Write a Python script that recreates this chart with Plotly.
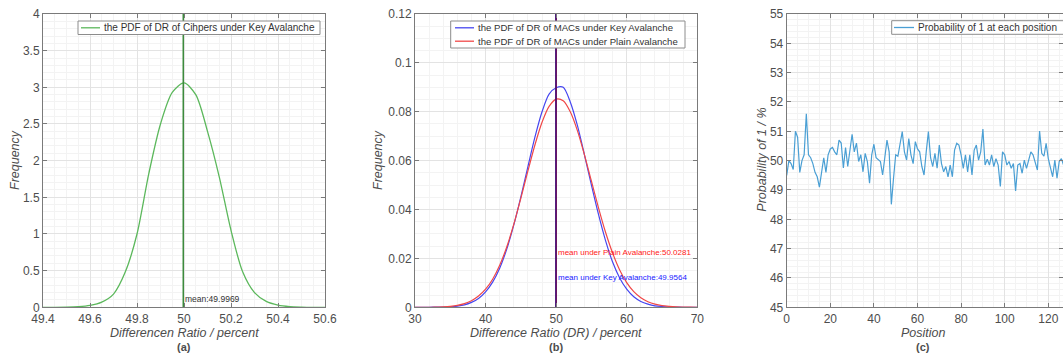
import plotly.graph_objects as go

# ---------------- data ----------------
# (a) PDF of DR of ciphers under key avalanche
a_x = [49.40, 49.45, 49.50, 49.55, 49.60, 49.65, 49.70, 49.75, 49.80, 49.85, 49.90, 49.95, 50.00,
       50.05, 50.10, 50.15, 50.20, 50.25, 50.30, 50.35, 50.40, 50.45, 50.50, 50.55, 50.60]
a_y = [0.000, 0.000, 0.002, 0.008, 0.025, 0.070, 0.180, 0.480, 1.000, 1.820, 2.500, 2.930, 3.060,
       2.900, 2.400, 1.780, 1.050, 0.480, 0.200, 0.080, 0.030, 0.010, 0.003, 0.000, 0.000]
a_mean = 49.9969
a_name = "the PDF of DR of Cihpers under Key Avalanche"

# (b) PDF of DR of MACs
b_x = [30, 31, 32, 33, 34, 35, 36, 37, 38, 39, 40, 41, 42, 43, 44, 45, 46, 47, 48, 49, 50,
       51, 52, 53, 54, 55, 56, 57, 58, 59, 60, 61, 62, 63, 64, 65, 66, 67, 68, 69, 70]
b_key = [0.0000, 0.0000, 0.0000, 0.0001, 0.0001, 0.0002, 0.0005, 0.0010, 0.0020, 0.0036, 0.0063,
         0.0103, 0.0160, 0.0238, 0.0337, 0.0452, 0.0576, 0.0697, 0.0800, 0.0872, 0.0898,
         0.0900, 0.0840, 0.0745, 0.0625, 0.0500, 0.0380, 0.0273, 0.0185, 0.0120, 0.0074,
         0.0043, 0.0024, 0.0013, 0.0006, 0.0003, 0.0001, 0.0001, 0.0000, 0.0000, 0.0000]
b_plain = [0.0000, 0.0000, 0.0000, 0.0001, 0.0002, 0.0004, 0.0008, 0.0015, 0.0027, 0.0046, 0.0074,
           0.0115, 0.0172, 0.0247, 0.0340, 0.0447, 0.0558, 0.0665, 0.0757, 0.0822, 0.0852,
           0.0845, 0.0800, 0.0724, 0.0625, 0.0516, 0.0407, 0.0307, 0.0222, 0.0153, 0.0101,
           0.0064, 0.0039, 0.0023, 0.0013, 0.0007, 0.0004, 0.0002, 0.0001, 0.0001, 0.0000]
b_mean_key = 49.9564
b_mean_plain = 50.0281
b_names = ["the PDF of DR of MACs under Key Avalanche", "the PDF of DR of MACs under Plain Avalanche"]

# (c) probability of 1 at each position
c_pos = list(range(0, 128))
c_prob = [49.50, 50.00, 49.90, 49.70, 51.00, 50.80, 49.60, 50.00, 50.20, 51.60,
          50.20, 50.10, 49.90, 49.60, 49.45, 49.10, 49.60, 50.10, 49.60, 50.20,
          50.40, 50.45, 50.30, 50.20, 50.70, 50.60, 49.75, 50.45, 49.80, 50.30,
          50.90, 50.30, 50.60, 49.97, 50.20, 49.62, 50.25, 49.97, 49.23, 50.20,
          50.56, 50.10, 50.05, 49.97, 49.51, 50.05, 50.70, 50.30, 48.51, 49.40,
          50.20, 50.15, 50.65, 50.99, 50.30, 50.02, 50.75, 50.20, 49.90, 50.65,
          50.40, 50.30, 49.80, 49.51, 50.30, 50.99, 50.10, 49.80, 50.25, 49.74,
          50.53, 49.90, 49.62, 49.80, 49.45, 49.85, 49.45, 50.36, 50.59, 50.53,
          50.20, 49.74, 50.20, 49.62, 50.20, 49.51, 50.36, 50.53, 50.02, 50.30,
          51.08, 49.85, 50.05, 49.85, 50.20, 49.80, 50.07, 49.85, 49.12, 50.30,
          50.20, 49.85, 49.97, 49.74, 49.90, 48.97, 49.85, 49.90, 49.57, 50.02,
          49.74, 50.07, 50.30, 50.20, 49.97, 49.68, 51.01, 50.25, 50.15, 50.59,
          50.07, 49.74, 49.45, 50.02, 49.40, 49.97, 50.07, 49.85]
c_name = "Probability of 1 at each position"

# ---------------- figure ----------------
W, H = 1063, 358
FONT = "Liberation Sans, Arial, sans-serif"
TXT = "#4d4d4d"
GREEN, GREEN_D = "#5cb85c", "#3d8b3d"
BLUE, RED = "#4646f0", "#f04848"
CBLUE = "#4a9fd4"

fig = go.Figure()

# (a)
fig.add_trace(go.Scatter(x=a_x, y=a_y, mode="lines", line=dict(color=GREEN, width=1.3, shape="spline", smoothing=0.8),
                         name=a_name, showlegend=False, xaxis="x", yaxis="y"))
fig.add_trace(go.Scatter(x=[a_mean, a_mean], y=[0, 4], mode="lines", line=dict(color=GREEN_D, width=1.5),
                         showlegend=False, xaxis="x", yaxis="y"))

# (b)
fig.add_trace(go.Scatter(x=b_x, y=b_key, mode="lines", line=dict(color=BLUE, width=1.2, shape="spline", smoothing=0.8),
                         name=b_names[0], showlegend=False, xaxis="x2", yaxis="y2"))
fig.add_trace(go.Scatter(x=b_x, y=b_plain, mode="lines", line=dict(color=RED, width=1.2, shape="spline", smoothing=0.8),
                         name=b_names[1], showlegend=False, xaxis="x2", yaxis="y2"))
fig.add_trace(go.Scatter(x=[b_mean_key, b_mean_key], y=[0, 0.12], mode="lines", line=dict(color="#3a1080", width=1.5),
                         showlegend=False, xaxis="x2", yaxis="y2"))
fig.add_trace(go.Scatter(x=[b_mean_plain, b_mean_plain], y=[0, 0.12], mode="lines", line=dict(color="#6a1060", width=1.2),
                         showlegend=False, xaxis="x2", yaxis="y2"))

# (c)
fig.add_trace(go.Scatter(x=c_pos, y=c_prob, mode="lines", line=dict(color=CBLUE, width=1.2),
                         name=c_name, showlegend=False, xaxis="x3", yaxis="y3"))

ydom = [1 - 307.3 / H, 1 - 14 / H]


def ax(domain, rng, dtick, minor, anchor):
    return dict(domain=domain, range=rng, dtick=dtick, tick0=rng[0], anchor=anchor,
                showgrid=True, gridcolor="#e3e3e3", gridwidth=1,
                minor=dict(dtick=minor, showgrid=True, gridcolor="#f3f3f3", gridwidth=1, ticks=""),
                showline=True, linecolor="#7a7a7a", linewidth=1, mirror="ticks",
                ticks="inside", ticklen=4, tickcolor="#7a7a7a",
                zeroline=False, tickfont=dict(family=FONT, size=12, color=TXT))


c_right = 120 + (W - 1048.3) / 2.18
fig.update_layout(
    width=W, height=H, margin=dict(l=0, r=0, t=0, b=0, autoexpand=False),
    paper_bgcolor="white", plot_bgcolor="white",
    font=dict(family=FONT, color=TXT),
    xaxis=ax([43 / W, 325 / W], [49.4, 50.6], 0.2, 0.05, "y"),
    yaxis=ax(ydom, [0, 4], 0.5, 0.1, "x"),
    xaxis2=ax([415 / W, 697.3 / W], [30, 70], 10, 2, "y2"),
    yaxis2=ax(ydom, [0, 0.12], 0.02, 0.005, "x2"),
    xaxis3=ax([786.7 / W, 1.0], [0, c_right], 20, 5, "y3"),
    yaxis3=ax(ydom, [45, 55], 1, 0.2, "x3"),
    showlegend=False,
)

ann = []
shapes = []


def label(text, xpx, ypx, size=12.5, italic=True, bold=False, angle=0):
    t = text
    if bold:
        t = "<b>" + t + "</b>"
    if italic:
        t = "<i>" + t + "</i>"
    ann.append(dict(text=t, x=xpx / W, y=1 - ypx / H, xref="paper", yref="paper", showarrow=False,
                    xanchor="center", yanchor="middle", textangle=angle,
                    font=dict(family=FONT, size=size, color=TXT)))


def legend_box(x0, y0, x1, y1, items, fsize=10):
    # items: (name, color, ypx, sample_x0, sample_x1, text_x)
    shapes.append(dict(type="rect", xref="paper", yref="paper", x0=x0 / W, x1=x1 / W,
                       y0=1 - y1 / H, y1=1 - y0 / H, line=dict(color="#8c8c8c", width=1),
                       fillcolor="white", layer="above"))
    for name, color, ypx, sx0, sx1, tx in items:
        shapes.append(dict(type="line", xref="paper", yref="paper", x0=sx0 / W, x1=sx1 / W,
                           y0=1 - ypx / H, y1=1 - ypx / H, line=dict(color=color, width=1.3), layer="above"))
        ann.append(dict(text=name, x=tx / W, y=1 - ypx / H, xref="paper", yref="paper", showarrow=False,
                        xanchor="left", yanchor="middle", font=dict(family=FONT, size=fsize, color="#333")))


label("Differencen Ratio / percent", 184, 333)
label("(a)", 184, 347, size=11, italic=False, bold=True)
label("Frequency", 15, 160, angle=-90)
label("Difference Ratio (DR) / percent", 556, 333)
label("(b)", 556, 347, size=11, italic=False, bold=True)
label("Frequency", 378, 160, angle=-90)
label("Position", 923, 333)
label("(c)", 923, 347, size=11, italic=False, bold=True)
label("Probability of 1 / %", 761.7, 160, angle=-90)

legend_box(78, 21, 320, 34.5, [(a_name, GREEN, 27.8, 81, 100, 102)])
legend_box(450.7, 21, 685, 48, [(b_names[0], BLUE, 27.8, 455, 474, 476),
                                (b_names[1], RED, 41.2, 455, 474, 476)], fsize=9.6)
legend_box(891.7, 20.7, 1075, 34.3, [(c_name, CBLUE, 27.5, 894, 914, 916)])

# mean annotations
ann.append(dict(text=f"mean:{a_mean}", x=a_mean, y=0.02, xref="x", yref="y", showarrow=False,
                xanchor="left", yanchor="bottom", font=dict(family=FONT, size=8.5, color="#333")))
ann.append(dict(text=f"mean under Plain Avalanche:{b_mean_plain}", x=b_mean_plain, y=0.0223, xref="x2", yref="y2",
                showarrow=False, xanchor="left", yanchor="middle", font=dict(family=FONT, size=8, color="#ff2020")))
ann.append(dict(text=f"mean under Key Avalanche:{b_mean_key}", x=b_mean_plain, y=0.0120, xref="x2", yref="y2",
                showarrow=False, xanchor="left", yanchor="middle", font=dict(family=FONT, size=8, color="#2020ff")))

fig.update_layout(annotations=ann, shapes=shapes)
fig.write_html("out.html")
